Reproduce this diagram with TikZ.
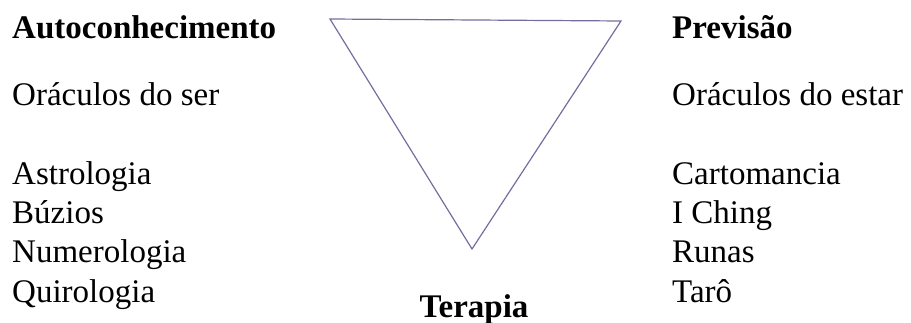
\documentclass[tikz,border=0pt]{standalone}
\usepackage{fontspec}
\setmainfont{Liberation Serif}
\definecolor{trianglecol}{RGB}{118,108,158}
\tikzset{
  item/.style={anchor=base west,inner sep=0pt,font=\fontsize{33}{39}\selectfont},
  heading/.style={item,font=\fontsize{33}{39}\selectfont\bfseries},
}
\begin{document}
\begin{tikzpicture}[x=1pt,y=-1pt]
    \useasboundingbox (0,0) rectangle (911,323);
    \draw[trianglecol,line width=1.2pt,line join=miter] (330,19) -- (621,21) -- (472,249) -- cycle;
    % lado esquerdo
    \node[heading] (auto) at (12,39) {Autoconhecimento};
    \node[item] (ser) at (12,106) {Oráculos do ser};
    \foreach \t [count=\i] in {Astrologia,Búzios,Numerologia,Quirologia}
      \node[item] (esq\i) at (12,146+39*\i) {\t};
    % lado direito
    \node[heading] (prev) at (672,39) {Previsão};
    \node[item] (estar) at (672,106) {Oráculos do estar};
    \foreach \t [count=\i] in {Cartomancia,I Ching,Runas,Tarô}
      \node[item] (dir\i) at (672,146+39*\i) {\t};
    \node[heading,anchor=base] (terapia) at (474,317) {Terapia};
  \end{tikzpicture}
\end{document}
